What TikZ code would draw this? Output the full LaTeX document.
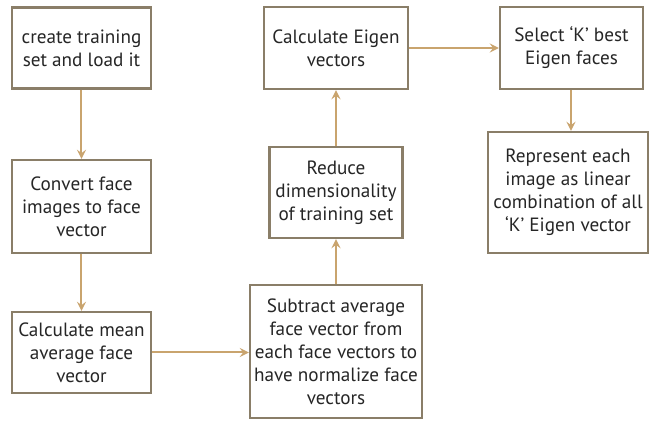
\documentclass[tikz,border=0pt]{standalone}
\usepackage{fontspec}
\setmainfont{PT Sans}
\usepackage{tikz}
\usetikzlibrary{positioning,calc}

\definecolor{boxline}{HTML}{8A7E68}
\definecolor{flowline}{HTML}{C9A46E}
\definecolor{boxtext}{HTML}{262626}

\begin{document}
\begin{tikzpicture}[x=0.5pt,y=-0.5pt,
        stepbox/.style={rectangle,draw=boxline,fill=white,line width=1.1pt,
          text=boxtext,align=center,inner sep=1pt,
          font=\fontsize{9.6}{11.5}\selectfont},
        flow/.style={->,>=stealth,draw=flowline,line width=1pt}]
      \useasboundingbox (0,0) rectangle (650,421);
      \node (load) at ( 81.5, 48) [stepbox,minimum width=69.5pt,minimum height=40.5pt] {create training\\set and load it};
      \node (convert) at ( 81.5,206.5) [stepbox,minimum width=69.5pt,minimum height=46.5pt] {Convert face\\images to face\\vector};
      \node (mean) at ( 81.5,352.5) [stepbox,minimum width=69.5pt,minimum height=40.5pt] {Calculate mean\\average face\\vector};
      \node (subtract) at (336,351.5) [stepbox,minimum width=86pt,minimum height=66.5pt] {Subtract average\\face vector from\\each face vectors to\\have normalize face\\vectors};
      \node (reduce) at (336,192.5) [stepbox,minimum width=66.5pt,minimum height=45.5pt] {Reduce\\dimensionality\\of training set};
      \node (eigen) at (336, 48) [stepbox,minimum width=72pt,minimum height=41pt] {Calculate Eigen\\vectors};
      \node (select) at (571.5, 48) [stepbox,minimum width=71.5pt,minimum height=41pt] {Select `K' best\\Eigen faces};
      \node (represent) at (568,192.5) [stepbox,minimum width=80pt,minimum height=60.5pt] {Represent each\\image as linear\\combination of all\\`K' Eigen vector};
      % connectors
      \draw [flow] (load) -- (convert);
      \draw [flow] (convert) -- (mean);
      \draw [flow] (mean) -- (mean -| subtract.west);
      \draw [flow] (subtract) -- (reduce);
      \draw [flow] (reduce) -- (eigen);
      \draw [flow] (eigen) -- (select);
      \draw [flow] (select.south -| 571,0) -- (represent.north -| 571,0);
    \end{tikzpicture}
\end{document}
